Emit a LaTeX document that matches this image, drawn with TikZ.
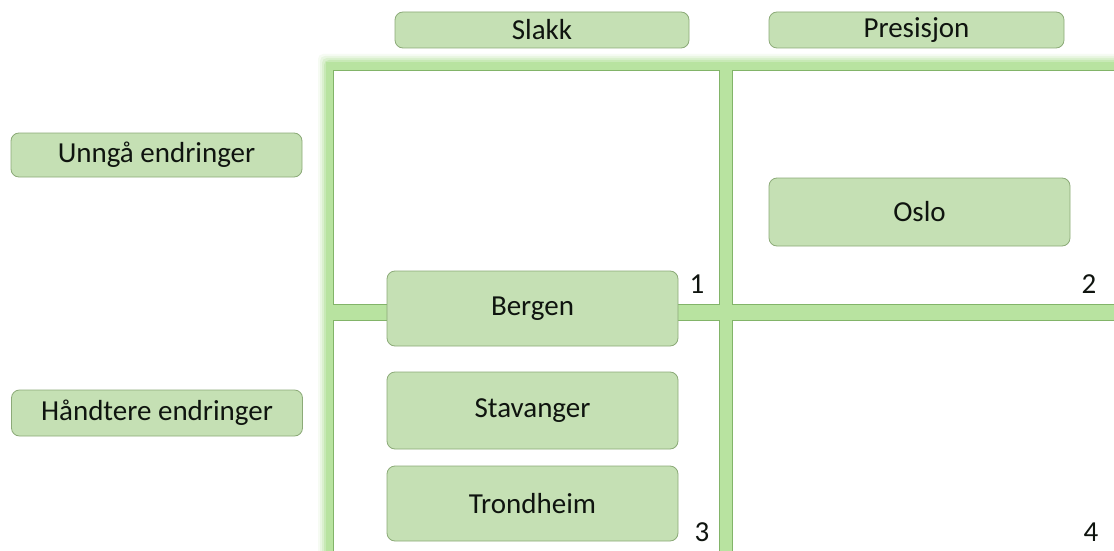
\documentclass[tikz,border=0pt]{standalone}
\usepackage{fontspec}
\setmainfont{Carlito}
\definecolor{boxfill}{RGB}{197,224,180}
\definecolor{boxline}{RGB}{140,170,120}
\definecolor{band}{RGB}{184,227,160}
\definecolor{cellline}{RGB}{130,180,105}
\definecolor{txt}{RGB}{15,20,15}
\begin{document}
\begin{tikzpicture}[x=1pt,y=-1pt,
  lbl/.style={draw=boxline, fill=boxfill, rounded corners=8pt, line width=0.8pt,
    inner sep=0pt, text=txt, font=\fontsize{29}{33}\selectfont},
  num/.style={text=txt, inner sep=0pt, font=\fontsize{29}{33}\selectfont},
  cell/.style={draw=cellline, fill=white, line width=0.8pt}]
\useasboundingbox (0,0) rectangle (1114,551);
\clip (0,0) rectangle (1114,551);
\fill[white] (0,0) rectangle (1114,551);
% glow around band
\foreach \d/\o in {8/0.12,6/0.2,4/0.3,2/0.5}{
  \fill[band, opacity=\o, rounded corners=5pt] (326-\d,62-\d) rectangle (1130,570);
}
\fill[band] (326,62) rectangle (1130,570);
% cells
\draw[cell] (333,70) rectangle (719,304);
\draw[cell] (732,70) rectangle (1130,304);
\draw[cell] (333,320) rectangle (719,570);
\draw[cell] (732,320) rectangle (1130,570);
% header labels
\node[lbl, minimum width=294pt, minimum height=36pt] (slakk) at (542,30) {Slakk};
\node[lbl, minimum width=295pt, minimum height=36pt] (presisjon) at (916.5,30) {Presisjon};
\node[lbl, minimum width=291pt, minimum height=44pt] (unnga) at (156.5,155) {Unngå endringer};
\node[lbl, minimum width=291pt, minimum height=46pt] (handtere) at (157,413) {Håndtere endringer};
% city boxes
\node[lbl, minimum width=301pt, minimum height=68pt] (oslo) at (919.5,212) {Oslo};
\node[lbl, minimum width=291pt, minimum height=75pt] (bergen) at (532.5,308.5) {Bergen};
\node[lbl, minimum width=291pt, minimum height=77pt] (stavanger) at (532.5,410.5) {Stavanger};
\node[lbl, minimum width=291pt, minimum height=75pt] (trondheim) at (532.5,503.5) {Trondheim};
% quadrant numbers
\node[num] (n1) at (697,284) {1};
\node[num] (n2) at (1089,284) {2};
\node[num] (n3) at (702,532) {3};
\node[num] (n4) at (1091,532) {4};
\end{tikzpicture}
\end{document}
